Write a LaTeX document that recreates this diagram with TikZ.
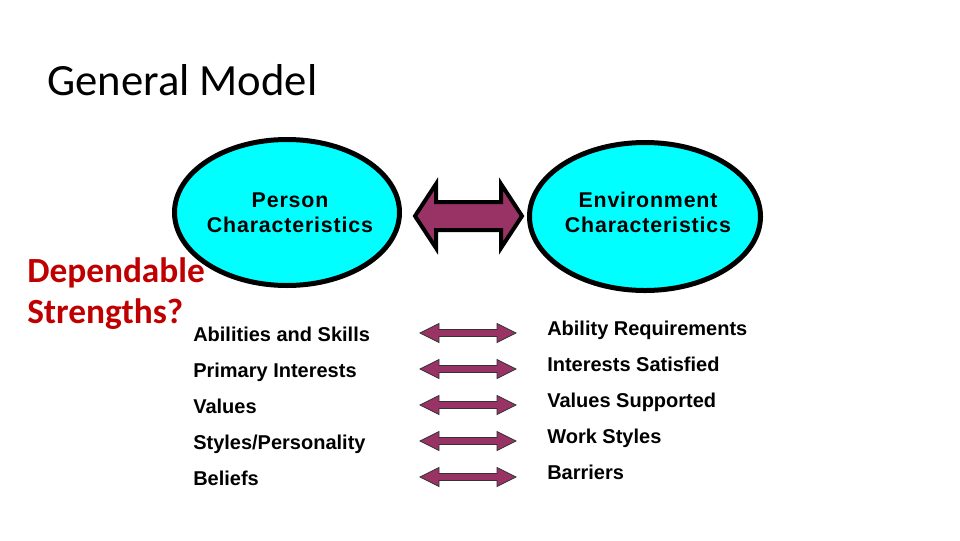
\documentclass[tikz,border=0pt]{standalone}
\usepackage{fontspec}
\setmainfont{Liberation Sans}
\newfontfamily\calibri{Carlito}
\usetikzlibrary{shapes.geometric}
\definecolor{cyanfill}{HTML}{00FFFF}
\definecolor{plum}{HTML}{993366}
\definecolor{redtxt}{HTML}{C00000}
% #1 style, #2 left tip x, #3 right tip x, #4 y, #5 head length, #6 half head, #7 half shaft
\newcommand{\dblarr}[7]{%
  \draw[#1] (#2,#4) -- ++(#5,-#6) -- ++(0,#6-#7) -- (#3-#5,#4-#7) -- ++(0,#7-#6)
    -- (#3,#4) -- ++(-#5,#6) -- ++(0,#7-#6) -- (#2+#5,#4+#7) -- ++(0,#6-#7) -- cycle;}
\begin{document}
\begin{tikzpicture}[x=0.75pt,y=-0.75pt,
  blob/.style={ellipse, draw=black, line width=3.75pt, fill=cyanfill, inner sep=0pt},
  ctext/.style={font=\fontsize{16}{18}\selectfont\bfseries\addfontfeature{LetterSpace=4}, anchor=base, inner sep=0pt},
  item/.style={font=\fontsize{15}{18}\selectfont\bfseries, anchor=base west, inner sep=0pt},
  bigarrow/.style={fill=plum, draw=black, line width=3pt},
  smallarrow/.style={fill=plum, draw=black!80, line width=0.6pt},
  title/.style={font=\calibri\fontsize{33.5}{40}\selectfont, anchor=base west, inner sep=0pt},
  redtitle/.style={font=\calibri\bfseries\fontsize{26.5}{31}\selectfont, text=redtxt, anchor=base west, inner sep=0pt}]
\useasboundingbox (0,0) rectangle (960,540);
\fill[white] (0,0) rectangle (960,540);

\node[title] (title) at (47,95) {General Model};

\node[blob, minimum width=168.75pt, minimum height=109.5pt] (person) at (287,212.5) {};
\node[blob, minimum width=173.25pt, minimum height=111pt] (env) at (645,216.5) {};

\node[ctext] (p1) at (290,207) {Person};
\node[ctext] (p2) at (290,232) {Characteristics};
\node[ctext] (e1) at (648,207) {Environment};
\node[ctext] (e2) at (648,232) {Characteristics};

\dblarr{bigarrow}{415}{522}{216}{21}{32}{14}

\node[redtitle] (dep1) at (27,282) {Dependable};
\node[redtitle] (dep2) at (27,323) {Strengths?};

\node[item] (l1) at (193,341) {Abilities and Skills};
\node[item] (l2) at (193,377) {Primary Interests};
\node[item] (l3) at (193,413) {Values};
\node[item] (l4) at (193,449) {Styles/Personality};
\node[item] (l5) at (193,485) {Beliefs};

\node[item] (r1) at (547,335) {Ability Requirements};
\node[item] (r2) at (547,371) {Interests Satisfied};
\node[item] (r3) at (547,407) {Values Supported};
\node[item] (r4) at (547,443) {Work Styles};
\node[item] (r5) at (547,479) {Barriers};

\foreach \yy in {333,369,405,441,477}{
  \dblarr{smallarrow}{420}{516}{\yy}{19}{9.5}{3.5}
}
\end{tikzpicture}
\end{document}
